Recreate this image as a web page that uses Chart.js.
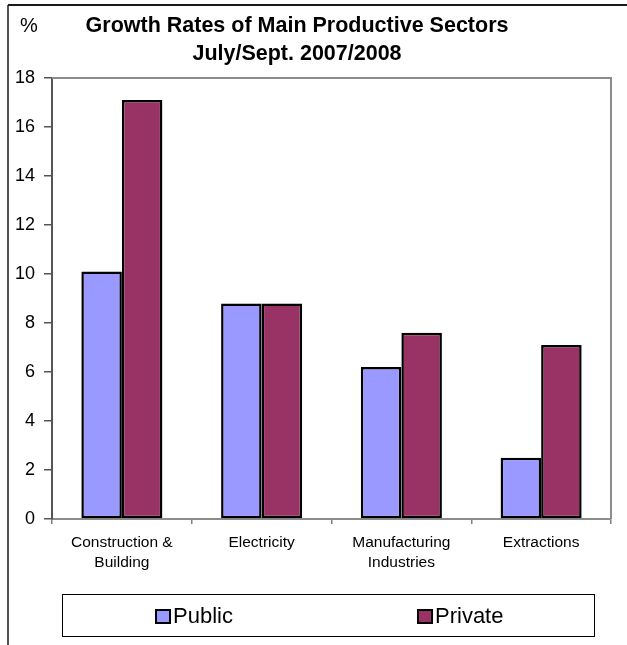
<!DOCTYPE html>
<html>
<head>
<meta charset="utf-8">
<script src="https://cdn.jsdelivr.net/npm/chart.js@4"></script>
<style>
  html, body { margin: 0; padding: 0; background: #ffffff; }
  #wrap { width: 627px; height: 645px; }
</style>
</head>
<body>
<div id="wrap"><canvas id="chart" width="627" height="645"></canvas></div>
<script>
// Sectors (multi-line labels) and growth rates in percent
const categories = [["Construction &", "Building"], "Electricity", ["Manufacturing", "Industries"], "Extractions"];
const seriesNames = ["Public", "Private"];
const publicValues = [10.1, 8.8, 6.2, 2.5];
const privateValues = [17.1, 8.8, 7.6, 7.1];
const yMin = 0;
const yMax = 18;
const yStep = 2;
const titleLines = ["Growth Rates of Main Productive Sectors", "July/Sept. 2007/2008"];
const unitLabel = "%";

const FONT = "'Liberation Sans', Arial, sans-serif";

// Frame, heading, plot outline and boxed legend
const decorations = {
  id: 'decorations',
  afterDraw(chart) {
    const ctx = chart.ctx;
    const area = chart.chartArea;
    ctx.save();

    // outer frame (top and left edges)
    ctx.strokeStyle = '#1a1a1a';
    ctx.lineWidth = 2;
    ctx.beginPath();
    ctx.moveTo(8, 5);
    ctx.lineTo(627, 5);
    ctx.stroke();
    ctx.lineWidth = 1.5;
    ctx.beginPath();
    ctx.moveTo(8, 5);
    ctx.lineTo(8, 645);
    ctx.stroke();

    // plot area outline (top and right)
    ctx.strokeStyle = '#8c8c8c';
    ctx.lineWidth = 2;
    ctx.beginPath();
    ctx.moveTo(area.left, area.top);
    ctx.lineTo(area.right, area.top);
    ctx.lineTo(area.right, area.bottom);
    ctx.stroke();

    // heading
    ctx.fillStyle = '#000000';
    ctx.textBaseline = 'middle';
    ctx.textAlign = 'center';
    ctx.font = 'bold 21.5px ' + FONT;
    titleLines.forEach((line, i) => ctx.fillText(line, 297, 26 + i * 28));

    // unit label
    ctx.textAlign = 'left';
    ctx.font = '20px ' + FONT;
    ctx.fillText(unitLabel, 20, 26);

    // legend box
    ctx.strokeStyle = '#000000';
    ctx.lineWidth = 1;
    ctx.strokeRect(62.5, 594.5, 532, 42);
    const itemX = [156, 418];
    ctx.font = '22px ' + FONT;
    chart.data.datasets.forEach((ds, i) => {
      const x = itemX[i];
      ctx.fillStyle = ds.backgroundColor;
      ctx.fillRect(x, 610, 14, 13);
      ctx.strokeStyle = '#000000';
      ctx.lineWidth = 2;
      ctx.strokeRect(x, 610, 14, 13);
      ctx.fillStyle = '#000000';
      ctx.textBaseline = 'middle';
      ctx.fillText(ds.label, x + 17, 617);
    });

    ctx.restore();
  }
};

new Chart(document.getElementById('chart'), {
  type: 'bar',
  data: {
    labels: categories,
    datasets: [
      {
        label: seriesNames[0],
        data: publicValues,
        backgroundColor: '#9999ff',
        borderColor: '#000000',
        borderWidth: 2.5,
        borderSkipped: false
      },
      {
        label: seriesNames[1],
        data: privateValues,
        backgroundColor: '#993366',
        borderColor: '#000000',
        borderWidth: 2.5,
        borderSkipped: false
      }
    ]
  },
  options: {
    responsive: false,
    animation: false,
    devicePixelRatio: 1,
    layout: { padding: { top: 78, right: 16, left: 0, bottom: 0 } },
    datasets: {
      bar: { barPercentage: 1, categoryPercentage: 0.58 }
    },
    plugins: {
      legend: { display: false },
      title: { display: false },
      tooltip: { enabled: false }
    },
    scales: {
      x: {
        offset: true,
        grid: {
          offset: true,
          drawOnChartArea: false,
          drawTicks: true,
          tickLength: 5,
          color: '#808080',
          lineWidth: 1.5
        },
        border: { display: true, color: '#8c8c8c', width: 2 },
        ticks: {
          color: '#000000',
          padding: 9,
          maxRotation: 0,
          autoSkip: false,
          font: { family: FONT, size: 15.5, lineHeight: 1.29 }
        },
        afterFit(scale) { scale.height = 126; }
      },
      y: {
        min: yMin,
        max: yMax,
        grid: {
          drawOnChartArea: false,
          drawTicks: true,
          tickLength: 8,
          color: '#555555',
          lineWidth: 1.5
        },
        border: { display: true, color: '#555555', width: 2 },
        ticks: {
          stepSize: yStep,
          color: '#000000',
          padding: 9,
          font: { family: FONT, size: 18 }
        },
        afterFit(scale) { scale.width = 52; }
      }
    }
  },
  plugins: [decorations]
});
</script>
</body>
</html>
